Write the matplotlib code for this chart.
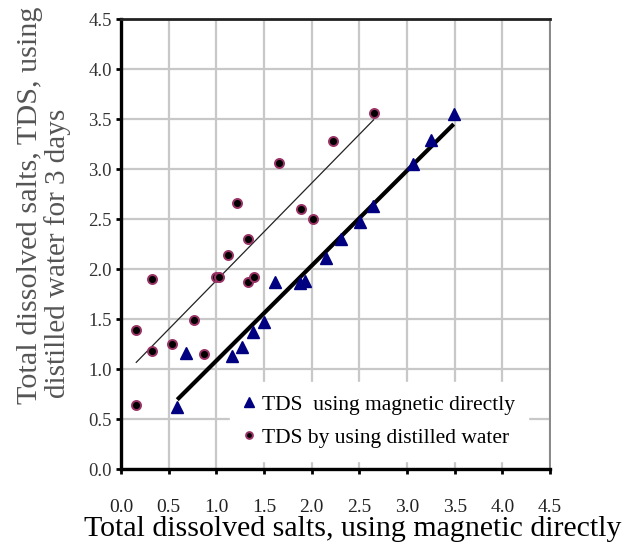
import numpy as np
import matplotlib
matplotlib.use("Agg")
import matplotlib.pyplot as plt

# Data
mag_x = [0.59, 0.68, 1.16, 1.27, 1.38, 1.50, 1.62, 1.88, 1.93, 2.15, 2.31, 2.51, 2.64, 3.06, 3.25, 3.49]
mag_y = [0.62, 1.16, 1.13, 1.22, 1.37, 1.47, 1.87, 1.86, 1.88, 2.11, 2.30, 2.47, 2.63, 3.05, 3.29, 3.55]

dist_x = [0.16, 0.16, 0.32, 0.33, 0.54, 0.77, 0.87, 1.00, 1.03, 1.12, 1.22, 1.33, 1.33, 1.39, 1.66, 1.89, 2.01, 2.22, 2.65]
dist_y = [0.64, 1.39, 1.90, 1.18, 1.25, 1.49, 1.15, 1.92, 1.92, 2.14, 2.66, 2.30, 1.87, 1.92, 3.06, 2.60, 2.50, 3.28, 3.56]

ticks = [0.0, 0.5, 1.0, 1.5, 2.0, 2.5, 3.0, 3.5, 4.0, 4.5]
tick_labels = ["0.0", "0.5", "1.0", "1.5", "2.0", "2.5", "3.0", "3.5", "4.0", "4.5"]

label_mag = "TDS  using magnetic directly"
label_dist = "TDS by using distilled water"
xlabel = "Total dissolved salts, using magnetic directly"
ylabel1 = "Total dissolved salts, TDS, using"
ylabel2 = "distilled water for 3 days"

serif = ["Liberation Serif", "DejaVu Serif"]

fig = plt.figure(figsize=(6.29, 5.44), dpi=100)
W, H = 629, 544
ax = fig.add_axes([121 / W, 1 - 469 / H, (550 - 121) / W, (469 - 19) / H])

ax.set_xlim(0, 4.5)
ax.set_ylim(0, 4.5)
ax.set_xticks(ticks)
ax.set_yticks(ticks)
ax.set_xticklabels(tick_labels, fontfamily=serif, fontsize=14, color="#222222")
ax.set_yticklabels(tick_labels, fontfamily=serif, fontsize=13.5, color="#333333")
ax.grid(True, color="#c8c8c8", lw=1.6, zorder=0)
ax.set_axisbelow(True)
ax.tick_params(axis="both", direction="out", length=3.5, width=2, color="black")
ax.tick_params(axis="x", pad=18)
ax.tick_params(axis="y", pad=3)

for s in ["left", "bottom"]:
    ax.spines[s].set_linewidth(2.4)
    ax.spines[s].set_color("black")
ax.spines["top"].set_linewidth(2.0)
ax.spines["top"].set_color("#222222")
ax.spines["right"].set_linewidth(1.4)
ax.spines["right"].set_color("#888888")

# trend lines
mx = np.array(mag_x); my = np.array(mag_y)
dx = np.array(dist_x); dy = np.array(dist_y)
pm = np.polyfit(mx, my, 1)
pd_ = np.polyfit(dx, dy, 1)
xs_m = np.array([mx.min(), mx.max()])
xs_d = np.array([dx.min(), dx.max()])
ax.plot(xs_m, np.polyval(pm, xs_m), color="black", lw=3.0, zorder=3, solid_capstyle="butt")
ax.plot(xs_d, np.polyval(pd_, xs_d), color="#222222", lw=0.9, zorder=3)

ax.plot(mag_x, mag_y, linestyle="none", marker="^", markersize=9,
        color="#000080", markeredgecolor="#000080", zorder=4, label=label_mag)
ax.plot(dist_x, dist_y, linestyle="none", marker="o", markersize=6.5,
        markerfacecolor="black", markeredgecolor="#993366", markeredgewidth=1.4,
        zorder=4, label=label_dist)

leg = ax.legend(loc="lower right", bbox_to_anchor=(0.949, 0.018),
                prop={"family": serif, "size": 15.5}, frameon=True, fancybox=False,
                edgecolor="white", facecolor="white", framealpha=1.0,
                handlelength=0.6, handletextpad=0.3, borderpad=0.6,
                labelspacing=0.6, borderaxespad=0, markerscale=0.75)
leg.set_zorder(5)

fig.text(353 / W, 1 - 529 / H, xlabel, ha="center", va="center",
         fontfamily=serif, fontsize=21.5, color="black")
fig.text(30 / W, 1 - 205 / H, ylabel1, ha="center", va="center", rotation=90,
         fontfamily=serif, fontsize=21.8, color="#555555")
fig.text(58 / W, 1 - 253 / H, ylabel2, ha="center", va="center", rotation=90,
         fontfamily=serif, fontsize=21.0, color="#555555")

fig.savefig("out.png", dpi=100)
